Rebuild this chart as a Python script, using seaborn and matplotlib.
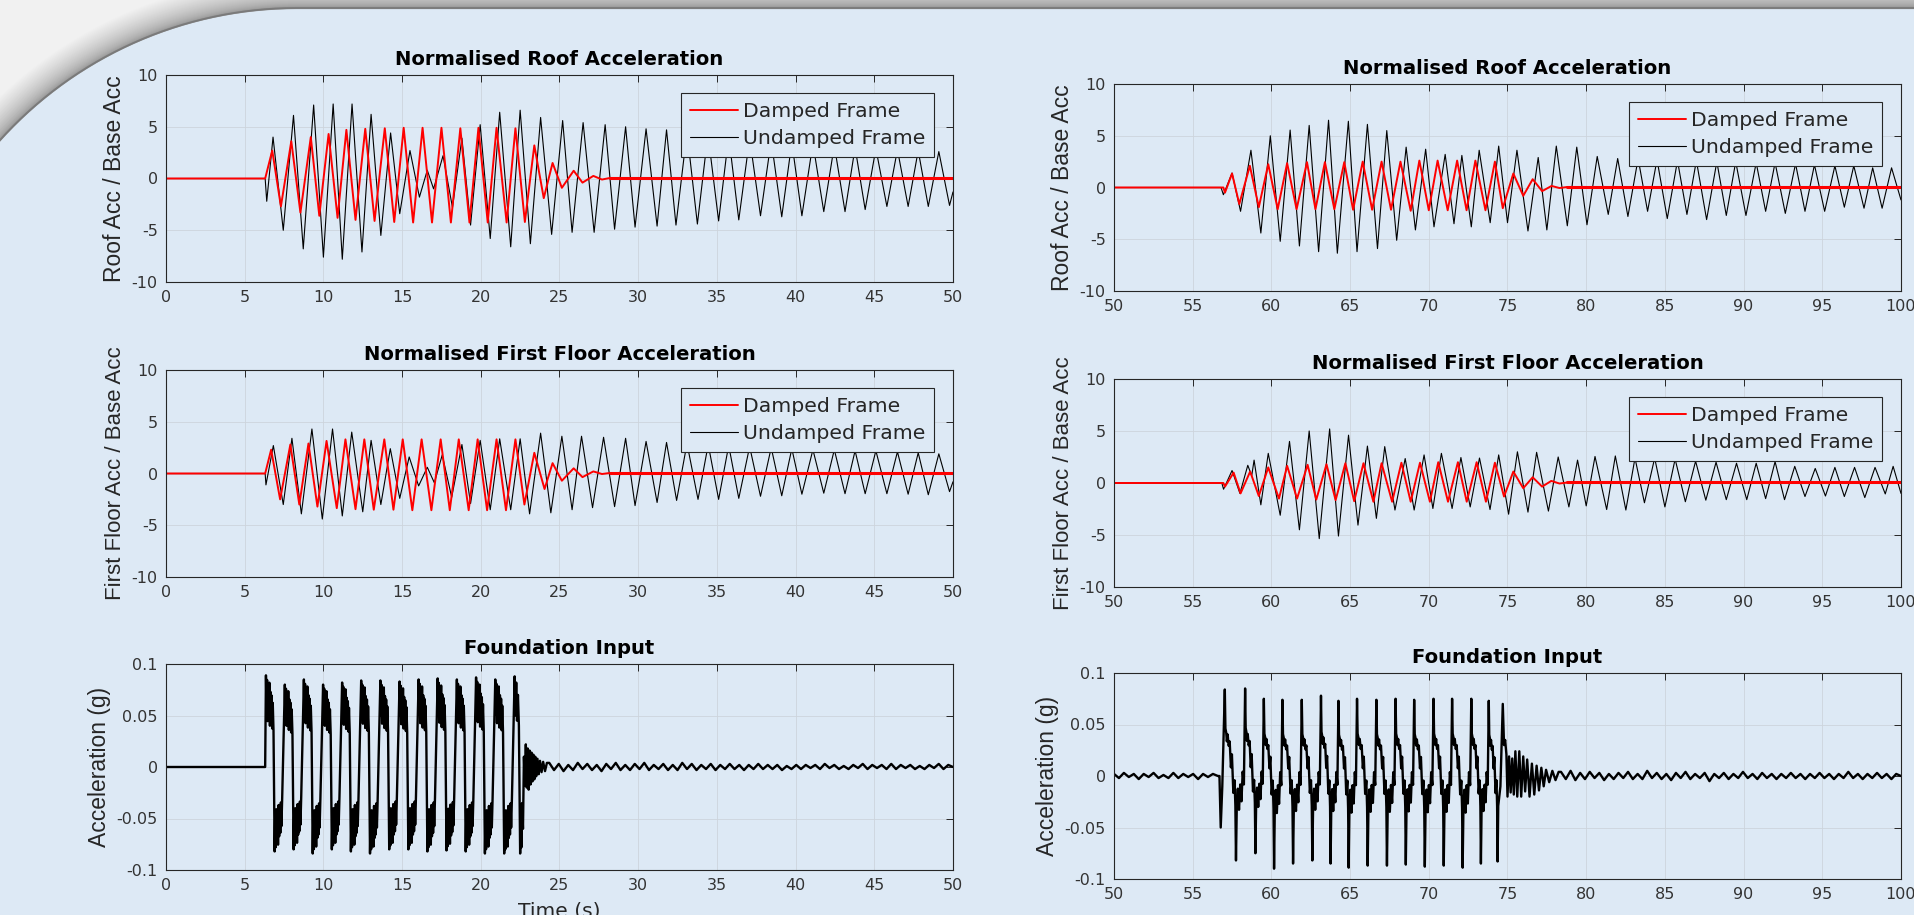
import numpy as np
import pandas as pd
import matplotlib
matplotlib.use("Agg")
import matplotlib.pyplot as plt
import seaborn as sns
from matplotlib.patches import Polygon

# ------------------------------------------------------------------ data
titles = ["Normalised Roof Acceleration", "Normalised First Floor Acceleration", "Foundation Input"]
ylabels = ["Roof Acc / Base Acc", "First Floor Acc / Base Acc", "Acceleration (g)"]
legend_labels = ["Damped Frame", "Undamped Frame"]
xlabel = "Time (s)"
xticks_a = [0, 5, 10, 15, 20, 25, 30, 35, 40, 45, 50]
xticks_b = [50, 55, 60, 65, 70, 75, 80, 85, 90, 95, 100]
yticks_resp = [-10, -5, 0, 5, 10]
yticks_found = [-0.1, -0.05, 0, 0.05, 0.1]
ytick_labels_found = ["-0.1", "-0.05", "0", "0.05", "0.1"]
ytick_labels_resp = ["-10", "-5", "0", "5", "10"]

# (time, value) extrema -- run A (0-50 s)
roof_und_a = [(0,0),(6.30,0),(6.40,-2.2),(6.80,4.0),(7.45,-5.0),(8.10,6.1),(8.72,-6.8),(9.38,7.1),(10.00,-7.6),(10.62,7.2),(11.20,-7.8),(11.82,7.2),(12.45,-7.1),(13.03,6.2),(13.65,-5.5),(14.27,4.4),(14.85,-3.4),(15.50,2.7),(16.10,-1.8),(16.60,0.8),(17.00,-1.0),(17.60,2.2),(18.20,-2.8),(18.80,3.9),(19.35,-4.5),(19.96,5.2),(20.60,-5.8),(21.20,6.4),(21.90,-6.6),(22.50,6.6),(23.15,-6.3),(23.80,5.9),(24.50,-5.4),(25.20,5.6),(25.80,-5.2),(26.50,5.4),(27.20,-5.2),(27.90,5.2),(28.50,-4.9),(29.20,5.0),(29.80,-4.7),(30.50,4.8),(31.20,-4.6),(31.80,4.7),(32.40,-4.5),(33.10,4.5),(33.76,-4.4),(34.43,4.3),(35.11,-4.1),(35.75,4.1),(36.39,-4.0),(37.08,3.9),(37.77,-3.6),(38.45,3.7),(39.12,-3.7),(39.76,3.5),(40.40,-3.6),(41.10,3.4),(41.79,-3.2),(42.46,3.2),(43.14,-3.2),(43.78,3.0),(44.42,-3.0),(45.10,2.9),(45.80,-2.7),(46.47,2.8),(47.15,-2.7),(47.79,2.7),(48.43,-2.7),(49.10,2.6),(49.78,-2.6),(50.0,-1.3)]
roof_dmp_a = [(0,0),(6.30,0),(6.75,2.7),(7.30,-2.7),(7.96,3.6),(8.54,-3.3),(9.20,4.0),(9.74,-3.6),(10.33,4.3),(10.90,-3.8),(11.46,4.7),(12.04,-4.0),(12.66,4.8),(13.25,-4.1),(13.90,4.85),(14.50,-4.2),(15.10,4.9),(15.70,-4.25),(16.30,4.9),(16.90,-4.25),(17.50,4.9),(18.10,-4.25),(18.70,4.85),(19.28,-4.25),(19.85,4.9),(20.44,-4.25),(21.00,4.9),(21.64,-4.25),(22.20,4.85),(22.80,-4.2),(23.40,3.2),(24.00,-1.9),(24.56,1.5),(25.15,-0.9),(25.90,0.75),(26.46,-0.4),(27.15,0.25),(27.70,-0.1),(28.20,0.05)]
roof_dmp_a_tail = [(28.20,0.05),(50.0,0.05)]
floor_und_a = [(0,0),(6.30,0),(6.35,-1.1),(6.82,2.7),(7.45,-3.0),(8.00,3.4),(8.60,-3.9),(9.27,4.3),(9.93,-4.4),(10.58,4.3),(11.20,-4.1),(11.80,4.0),(12.50,-3.7),(13.03,3.2),(13.65,-3.0),(14.25,2.4),(14.85,-2.4),(15.45,1.6),(16.05,-1.2),(16.60,0.6),(17.05,-0.9),(17.55,1.8),(18.15,-2.3),(18.80,2.8),(19.35,-2.9),(19.96,3.2),(20.60,-3.5),(21.20,3.35),(21.90,-3.5),(22.50,3.35),(23.10,-3.9),(23.80,3.9),(24.45,-3.8),(25.15,3.6),(25.80,-3.5),(26.40,3.6),(27.10,-3.3),(27.80,3.5),(28.50,-3.2),(29.20,3.4),(29.80,-3.1),(30.50,3.1),(31.20,-2.8),(31.80,3.0),(32.44,-2.6),(33.10,2.9),(33.80,-2.5),(34.45,2.8),(35.11,-2.5),(35.75,2.7),(36.39,-2.4),(37.08,2.6),(37.77,-2.2),(38.45,2.5),(39.12,-2.15),(39.76,2.4),(40.40,-2.0),(41.10,2.3),(41.79,-1.9),(42.46,2.3),(43.14,-1.95),(43.78,2.2),(44.42,-1.95),(45.10,2.2),(45.80,-1.95),(46.47,2.1),(47.15,-2.0),(47.79,2.0),(48.43,-2.05),(49.10,1.9),(49.78,-1.75),(50.0,-0.8)]
floor_dmp_a = [(0,0),(6.30,0),(6.68,2.3),(7.25,-2.5),(7.90,2.8),(8.47,-3.0),(9.05,2.9),(9.62,-3.2),(10.20,3.15),(10.85,-3.35),(11.40,3.3),(12.04,-3.45),(12.60,3.3),(13.20,-3.5),(13.87,3.3),(14.45,-3.5),(15.04,3.3),(15.65,-3.55),(16.24,3.3),(16.86,-3.55),(17.45,3.3),(18.03,-3.55),(18.60,3.3),(19.23,-3.55),(19.80,3.3),(20.40,-3.55),(21.00,3.3),(21.60,-3.55),(22.20,3.3),(22.77,-3.0),(23.40,2.0),(24.05,-1.5),(24.56,1.0),(25.15,-0.7),(25.90,0.5),(26.46,-0.35),(27.15,0.2),(27.70,-0.05),(28.20,0.05)]
floor_dmp_a_tail = [(28.20,0.05),(50.0,0.05)]

# run B (50-100 s)
roof_und_b = [(50,0),(56.80,0),(56.95,-0.7),(57.50,1.4),(58.04,-2.3),(58.70,3.6),(59.33,-4.4),(59.93,5.0),(60.56,-5.2),(61.19,5.55),(61.78,-5.65),(62.40,6.0),(63.00,-6.2),(63.63,6.5),(64.19,-6.35),(64.89,6.4),(65.44,-6.2),(66.10,6.1),(66.74,-5.9),(67.33,5.5),(67.96,-5.1),(68.56,3.9),(69.15,-4.1),(69.80,3.7),(70.33,-3.8),(71.04,3.2),(71.60,-3.5),(72.10,3.1),(72.70,-3.8),(73.20,3.6),(73.90,-3.4),(74.44,4.0),(75.00,-3.4),(75.60,3.6),(76.30,-4.2),(76.95,2.9),(77.50,-4.1),(78.10,4.0),(78.80,-3.7),(79.40,3.9),(80.05,-3.6),(80.70,3.0),(81.40,-2.6),(82.00,2.8),(82.65,-2.8),(83.30,2.8),(83.90,-2.3),(84.50,2.7),(85.15,-3.0),(85.80,2.6),(86.40,-2.6),(87.00,2.6),(87.65,-3.1),(88.30,2.5),(88.90,-2.7),(89.50,2.5),(90.15,-2.7),(90.80,2.4),(91.40,-2.3),(92.00,2.4),(92.65,-2.5),(93.30,2.3),(93.90,-2.3),(94.50,2.2),(95.15,-2.3),(95.80,2.1),(96.40,-1.9),(97.00,2.1),(97.65,-2.0),(98.20,1.9),(98.80,-2.0),(99.40,1.9),(100.0,-1.2)]
roof_dmp_b = [(50,0),(56.95,0),(57.05,-0.5),(57.50,1.35),(57.96,-1.6),(58.63,2.1),(59.20,-1.9),(59.80,2.25),(60.40,-2.1),(61.00,2.35),(61.60,-2.1),(62.26,2.45),(62.80,-2.1),(63.40,2.45),(64.00,-2.1),(64.63,2.45),(65.19,-2.15),(65.80,2.5),(66.40,-2.15),(67.00,2.5),(67.60,-2.15),(68.20,2.5),(68.85,-2.25),(69.40,2.6),(70.00,-2.2),(70.56,2.6),(71.20,-2.2),(71.80,2.6),(72.40,-2.2),(72.96,2.6),(73.60,-2.2),(74.20,2.5),(74.70,-2.0),(75.37,1.35),(76.00,-0.8),(76.60,0.8),(77.20,-0.35),(77.80,0.15),(78.30,-0.05),(78.80,0.05)]
roof_dmp_b_tail = [(78.80,0.05),(100.0,0.05)]
floor_und_b = [(50,0),(56.85,0),(56.96,-0.6),(57.50,1.2),(58.00,-1.0),(58.50,1.7),(58.75,0.7),(58.90,2.2),(59.33,-2.1),(59.80,2.85),(60.56,-3.1),(61.15,4.0),(61.78,-4.5),(62.40,5.0),(63.04,-5.35),(63.70,5.2),(64.26,-5.1),(64.90,4.6),(65.50,-4.05),(66.10,3.55),(66.67,-3.4),(67.20,3.5),(67.85,-2.6),(68.50,2.35),(69.07,-2.6),(69.70,2.7),(70.26,-2.45),(70.80,2.85),(71.48,-2.45),(72.04,2.45),(72.63,-2.3),(73.22,2.4),(73.89,-2.55),(74.44,2.7),(75.07,-3.0),(75.63,3.0),(76.30,-2.8),(76.85,2.95),(77.60,-2.7),(78.22,2.5),(78.90,-2.3),(79.45,2.2),(80.00,-2.2),(80.56,2.55),(81.30,-2.55),(81.85,2.6),(82.52,-2.6),(83.10,2.4),(83.70,-1.9),(84.35,2.4),(85.00,-2.3),(85.65,2.3),(86.30,-1.8),(86.95,2.1),(87.60,-1.65),(88.25,2.0),(88.90,-1.6),(89.55,1.9),(90.20,-1.6),(90.80,1.9),(91.40,-1.5),(92.00,2.05),(92.60,-1.6),(93.25,1.6),(93.90,-1.3),(94.55,1.4),(95.20,-1.25),(95.80,1.5),(96.40,-1.3),(97.05,1.5),(97.70,-1.4),(98.35,1.5),(99.00,-1.05),(99.50,1.6),(100.0,-1.0)]
floor_dmp_b = [(50,0),(56.95,0),(57.05,-0.35),(57.60,1.0),(58.04,-1.0),(58.65,1.1),(59.20,-1.25),(59.80,1.5),(60.48,-1.5),(61.00,1.65),(61.63,-1.5),(62.30,1.75),(62.85,-1.6),(63.50,1.8),(64.08,-1.65),(64.70,1.9),(65.26,-1.75),(65.85,1.9),(66.48,-1.8),(67.00,1.9),(67.67,-1.8),(68.26,1.95),(68.85,-1.8),(69.44,1.95),(70.07,-1.8),(70.60,2.0),(71.22,-1.8),(71.85,2.0),(72.41,-1.8),(73.04,2.0),(73.63,-1.8),(74.20,1.95),(74.78,-1.3),(75.37,1.1),(76.00,-0.5),(76.60,0.55),(77.20,-0.35),(77.78,0.2),(78.30,-0.05),(78.80,0.05)]
floor_dmp_b_tail = [(78.80,0.05),(100.0,0.05)]

# foundation input, run A: pulse tops, pulse values, one pulse shape read from a cycle
found_a_lead = [(0,0),(6.30,0)]
found_a_tops_t = [6.35, 7.55, 8.76, 9.98, 11.19, 12.40, 13.62, 14.84, 16.05, 17.26, 18.48, 19.70, 20.92]
found_a_tops_v = [0.089, 0.080, 0.085, 0.080, 0.082, 0.084, 0.084, 0.083, 0.085, 0.086, 0.085, 0.087, 0.085]
found_a_bots_v = [-0.082, -0.080, -0.084, -0.080, -0.082, -0.084, -0.080, -0.080, -0.082, -0.081, -0.082, -0.084, -0.084]
found_a_shape = [(0.00,1.00),(0.03,0.60),(0.06,0.95),(0.09,0.50),(0.12,0.88),(0.15,0.55),(0.18,0.92),(0.21,0.45),
                 (0.24,0.82),(0.27,0.50),(0.30,0.78),(0.33,0.42),(0.36,0.70),(0.40,0.40),
                 (0.46,-1.00),(0.49,-0.60),(0.52,-0.95),(0.55,-0.50),(0.58,-0.88),(0.61,-0.55),(0.64,-0.92),
                 (0.67,-0.45),(0.70,-0.82),(0.73,-0.50),(0.76,-0.78),(0.79,-0.42),(0.82,-0.70),(0.86,-0.36)]
found_a_end = [(22.15,0.088),(22.20,0.050),(22.25,0.082),(22.30,0.045),(22.36,0.070),(22.42,0.040),(22.50,-0.084),(22.54,-0.045),(22.58,-0.078),(22.62,-0.035),(22.68,-0.060),(22.74,0.010),(22.80,-0.018),(22.86,0.022),(22.92,-0.020),(22.98,0.018),(23.04,-0.022),(23.10,0.016),(23.16,-0.017),(23.22,0.014),(23.28,-0.014),(23.34,0.012),(23.40,-0.012),(23.46,0.010),(23.52,-0.009),(23.60,0.008),(23.68,-0.007),(23.76,0.006),(23.86,-0.005),(23.96,0.005),(24.08,-0.004),(24.20,0.004)]
found_a_ripple = [0.004,-0.003,0.003,-0.004,0.002,-0.003,0.004,-0.002,0.003,-0.003,
                  0.002,-0.004,0.003,-0.002,0.004,-0.003,0.002,-0.003,0.003,-0.002,
                  0.004,-0.003,0.002,-0.002,0.003,-0.003,0.002,-0.003,0.004,-0.002,
                  0.003,-0.003,0.002,-0.002,0.003,-0.003,0.002,-0.002,0.003,-0.002,
                  0.002,-0.003,0.002,-0.002,0.003,-0.002,0.002,-0.002,0.002,-0.003,
                  0.001,-0.002,0.002,-0.002,0.002,-0.001,0.002,-0.002,0.003,-0.001,
                  0.002,-0.002,0.001,-0.002,0.002,-0.001,0.003,-0.002,0.002,-0.001,
                  0.002,-0.002,0.003,-0.002,0.002,-0.001,0.002,-0.002,0.001,-0.002,
                  0.002,-0.001,0.003,-0.002,0.002,0.000]

# foundation input, run B
found_b_pre = [0.002,-0.002,0.003,-0.001,0.002,-0.003,0.002,-0.001,0.003,-0.002,0.001,
               -0.002,0.003,-0.002,0.002,-0.001,0.002,-0.003,0.002,-0.001,0.002,0.0]
found_b_lead = [(56.70,0.0),(56.78,-0.050),(56.88,-0.010)]
found_b_tops_t = [57.04, 58.33, 59.52, 60.70, 61.93, 63.15, 64.26, 65.44, 66.67, 67.89, 69.07, 70.30, 71.48, 72.70, 73.81]
found_b_tops_v = [0.084, 0.085, 0.075, 0.074, 0.074, 0.078, 0.073, 0.075, 0.074, 0.075, 0.074, 0.075, 0.075, 0.075, 0.073]
found_b_bots_v = [-0.082, -0.075, -0.090, -0.085, -0.082, -0.085, -0.089, -0.087, -0.087, -0.086, -0.088, -0.087, -0.089, -0.085, -0.083]
found_b_shape = [(0.00,1.00),(0.03,0.55),(0.07,0.50),(0.10,0.40),(0.14,0.48),(0.19,0.35),(0.24,0.40),(0.30,0.10),
                 (0.35,0.25),(0.42,-0.20),(0.48,-0.05),(0.52,-0.35),(0.55,-1.00),(0.59,-0.35),(0.64,-0.15),
                 (0.70,-0.40),(0.76,-0.10),(0.82,-0.30),(0.88,0.05),(0.94,-0.10)]
found_b_end = [(74.55,-0.010),(74.70,0.070),(74.78,0.030),(74.85,0.035),(74.93,0.021),(75.00,-0.020),(75.10,0.019),(75.20,-0.016),(75.30,0.017),(75.40,-0.018),(75.50,0.024),(75.62,-0.020),(75.75,0.024),(75.87,-0.020),(76.00,0.019),(76.12,-0.015),(76.25,0.016),(76.40,-0.020),(76.55,0.012),(76.70,-0.018),(76.85,0.010),(77.00,-0.014),(77.15,0.008),(77.30,-0.010),(77.45,0.006),(77.65,-0.006),(77.85,0.005),(78.05,-0.004),(78.25,0.004)]
found_b_ripple = [0.004,-0.003,0.005,-0.004,0.003,-0.003,0.004,-0.002,0.003,-0.004,
                  0.002,-0.003,0.003,-0.002,0.004,-0.003,0.002,-0.003,0.005,-0.002,
                  0.003,-0.003,0.002,-0.004,0.003,-0.002,0.004,-0.003,0.002,-0.002,
                  0.003,-0.005,0.002,-0.002,0.003,-0.003,0.002,-0.002,0.004,-0.002,
                  0.002,-0.003,0.003,-0.002,0.002,-0.003,0.002,-0.002,0.003,-0.002,
                  0.002,-0.003,0.002,-0.002,0.003,-0.002,0.002,-0.003,0.002,-0.002,
                  0.004,-0.002,0.002,-0.003,0.002,-0.002,0.003,-0.002,0.002,-0.003,
                  0.002,0.000]

# ------------------------------------------------------------------ helpers
def frame(pairs):
    t, v = zip(*pairs)
    return pd.DataFrame({"t": np.asarray(t, float), "v": np.asarray(v, float)})

def pulses(tops_t, tops_v, bots_v, shape, last_period, last_cut=1.0):
    rows = []
    for i, (t0, pv, bv) in enumerate(zip(tops_t, tops_v, bots_v)):
        last = i + 1 >= len(tops_t)
        per = last_period if last else tops_t[i + 1] - t0
        for ph, nv in shape:
            if last and ph > last_cut:
                continue
            rows.append((t0 + ph * per, nv * pv if nv >= 0 else nv * abs(bv)))
    return rows

def ripple(vals, t0, t1):
    return list(zip(np.linspace(t0, t1, len(vals)), vals))

found_a = found_a_lead + pulses(found_a_tops_t, found_a_tops_v, found_a_bots_v,
                                found_a_shape, 1.23) + found_a_end + ripple(found_a_ripple, 24.35, 50.0)
found_b = ripple(found_b_pre, 50.0, 56.6) + found_b_lead + pulses(
    found_b_tops_t, found_b_tops_v, found_b_bots_v, found_b_shape, 1.02, last_cut=0.62
) + found_b_end + ripple(found_b_ripple, 78.4, 100.0)

# ------------------------------------------------------------------ style
BG = "#dde9f5"
INK = "#262626"
sns.set_style("white")
plt.rcParams["font.family"] = ["DejaVu Sans"]
plt.rcParams["axes.unicode_minus"] = False

W, H = 1915, 915
fig = plt.figure(figsize=(W / 100, H / 100), dpi=100, facecolor=BG)

# slide decoration (top-left rounded frame)
deco = fig.add_axes([0, 0, 1, 1], zorder=-10)
deco.set_xlim(0, W); deco.set_ylim(H, 0); deco.axis("off")
TOP = 8.0
R = 400.0
cx, cy = 297.0, TOP + R
def edge(d):
    th = np.linspace(0.0, np.pi / 2, 240)
    xs = cx - (R + d) * np.cos(th)
    ys = cy - (R + d) * np.sin(th)
    xs = np.append(xs, W + 20); ys = np.append(ys, cy - R - d)
    return xs, ys
ex, ey = edge(0)
outer = np.column_stack([np.concatenate([ex, [W + 20, -300, -300]]),
                         np.concatenate([ey, [-60, -60, cy]])])
deco.add_patch(Polygon(outer, closed=True, fc="#f1f1f1", ec="none"))
steps = 30
for k in range(steps, -1, -1):
    f = (k / steps) ** 0.6
    g = 0.58 + (0.945 - 0.58) * f
    xs, ys = edge(k)
    deco.plot(xs, ys, color=(g, g, g), lw=1.6, solid_capstyle="butt")
xs, ys = edge(0)
deco.plot(xs, ys, color="#7a7a7a", lw=1.3)

# axes rectangles (figure fractions)
ax_w = 787 / W
left_x, right_x = 166 / W, 1114 / W
def rect(x0, top, bottom):
    return [x0, 1 - bottom / H, ax_w, (bottom - top) / H]
pos = {
    (0, 0): rect(left_x, 75, 282), (1, 0): rect(left_x, 370, 577), (2, 0): rect(left_x, 664, 870),
    (0, 1): rect(right_x, 84, 291), (1, 1): rect(right_x, 379, 587), (2, 1): rect(right_x, 673, 879),
}

def style(ax, xticks, yticks, ylabels_txt, ylim):
    ax.set_facecolor(BG)
    ax.set_xlim(xticks[0], xticks[-1]); ax.set_ylim(*ylim)
    ax.set_xticks(xticks); ax.set_xticklabels([str(x) for x in xticks])
    ax.set_yticks(yticks); ax.set_yticklabels(ylabels_txt)
    ax.grid(True, color="#cdd4dc", lw=0.6)
    ax.set_axisbelow(True)
    ax.tick_params(direction="in", length=5, width=0.7, top=True, right=True,
                   color=INK, labelcolor="#333333", labelsize=11.5, pad=6)
    for s in ax.spines.values():
        s.set_color(INK); s.set_linewidth(0.8)
    ax.set_xlabel("")

def resp_panel(ax, und, dmp, dmp_tail, xticks, title, ylab, ylab_size):
    du, dd, dt = frame(und), frame(dmp), frame(dmp_tail)
    sns.lineplot(data=du, x="t", y="v", ax=ax, color="black", lw=0.8, sort=False, estimator=None)
    sns.lineplot(data=dd, x="t", y="v", ax=ax, color="#ff0000", lw=1.4, sort=False, estimator=None)
    sns.lineplot(data=dt, x="t", y="v", ax=ax, color="#ff0000", lw=2.2, sort=False, estimator=None)
    style(ax, xticks, yticks_resp, ytick_labels_resp, (-10, 10))
    ax.set_title(title, fontsize=14.1, fontweight="bold", pad=7, color="black")
    ax.set_ylabel(ylab, fontsize=ylab_size, family="Liberation Sans", color=INK, labelpad=4)
    lines = ax.get_lines()
    leg = ax.legend([lines[1], lines[0]], legend_labels, loc="upper right",
                    bbox_to_anchor=(0.976, 0.913), borderaxespad=0, fontsize=14.7,
                    handlelength=2.35, handletextpad=0.22, borderpad=0.44, labelspacing=0.38,
                    frameon=True, fancybox=False, edgecolor=INK, facecolor=BG, framealpha=1)
    leg.get_frame().set_linewidth(0.8)

def found_panel(ax, data, xticks, with_xlabel):
    d = frame(data)
    sns.lineplot(data=d, x="t", y="v", ax=ax, color="black", lw=1.7, sort=False, estimator=None)
    style(ax, xticks, yticks_found, ytick_labels_found, (-0.1, 0.1))
    ax.set_title(titles[2], fontsize=14.1, fontweight="bold", pad=7, color="black")
    ax.set_ylabel(ylabels[2], fontsize=16.5, family="Liberation Sans", color=INK, labelpad=4)
    if with_xlabel:
        ax.set_xlabel(xlabel, fontsize=14.6, color=INK, labelpad=6)

axes = {k: fig.add_axes(v) for k, v in pos.items()}
resp_panel(axes[(0, 0)], roof_und_a, roof_dmp_a, roof_dmp_a_tail, xticks_a, titles[0], ylabels[0], 16.5)
resp_panel(axes[(1, 0)], floor_und_a, floor_dmp_a, floor_dmp_a_tail, xticks_a, titles[1], ylabels[1], 16.0)
found_panel(axes[(2, 0)], found_a, xticks_a, True)
resp_panel(axes[(0, 1)], roof_und_b, roof_dmp_b, roof_dmp_b_tail, xticks_b, titles[0], ylabels[0], 16.5)
resp_panel(axes[(1, 1)], floor_und_b, floor_dmp_b, floor_dmp_b_tail, xticks_b, titles[1], ylabels[1], 16.0)
found_panel(axes[(2, 1)], found_b, xticks_b, False)

fig.savefig("out.png", dpi=100, facecolor=BG)
